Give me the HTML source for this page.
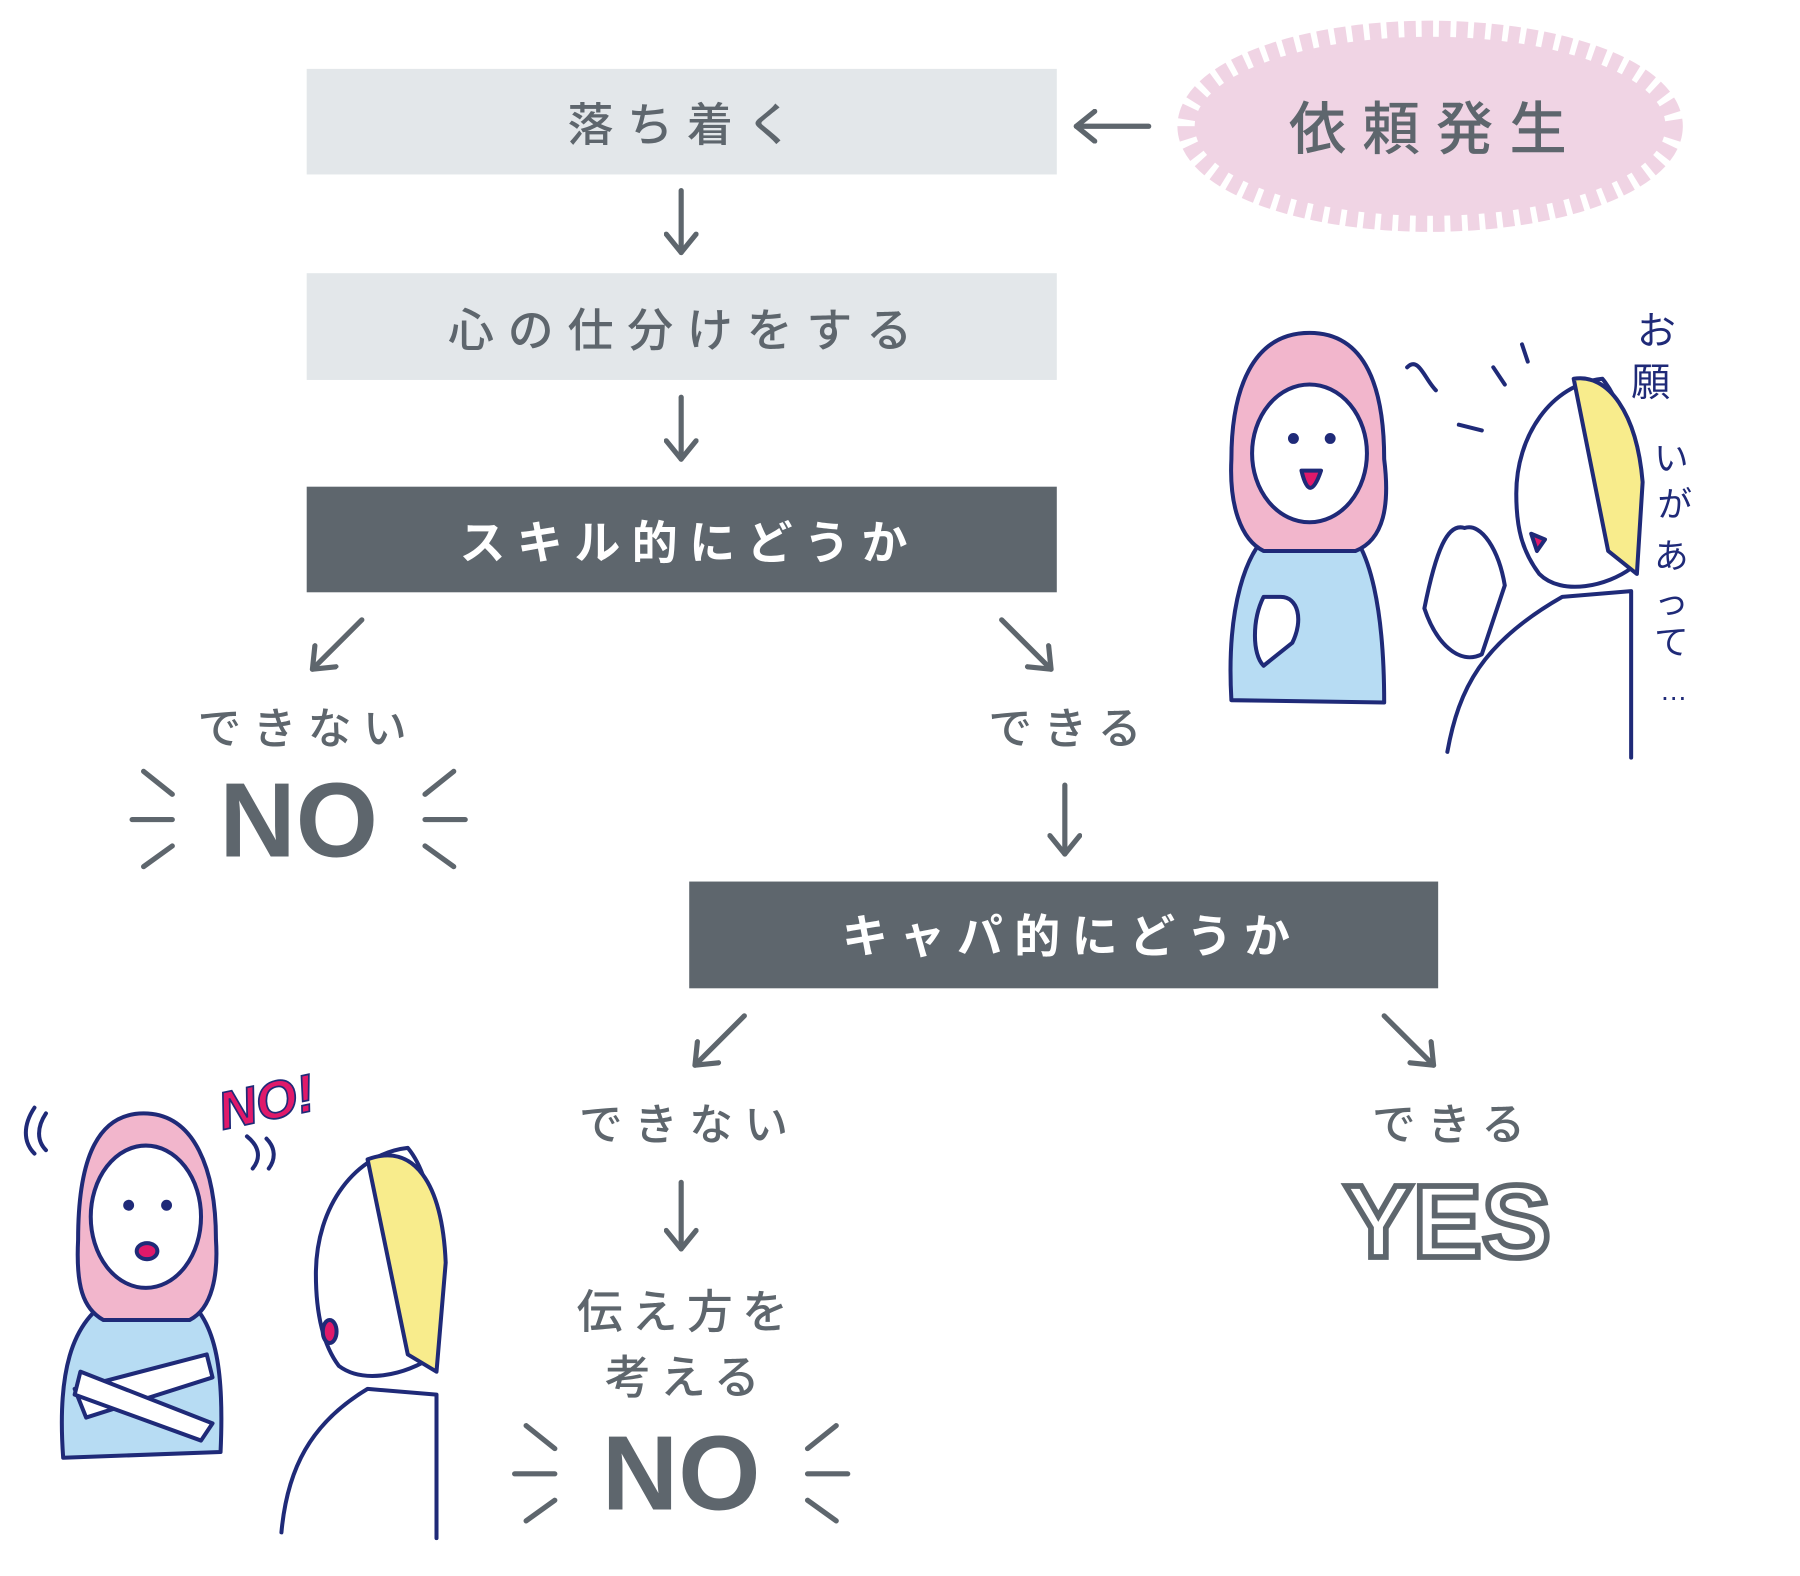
<!DOCTYPE html>
<html><head><meta charset="utf-8"><style>
html,body{margin:0;padding:0;background:#fff}
svg{display:block}
text{font-family:"Liberation Sans","Noto Sans CJK JP",sans-serif}
.jp{font-family:"Noto Sans CJK JP",sans-serif;font-weight:700;fill:#5e666d}
</style></head><body>
<svg width="1800" height="1576" viewBox="0 0 1567 1373" preserveAspectRatio="none" xmlns="http://www.w3.org/2000/svg">
<defs>
<marker id="ah" viewBox="0 0 30 30" refX="20" refY="15" markerWidth="30" markerHeight="30" markerUnits="userSpaceOnUse" orient="auto">
<path d="M4 2 L20 15 L4 28" fill="none" stroke="#5e666d" stroke-width="4.5" stroke-linecap="round" stroke-linejoin="round"/>
</marker>
</defs>
<ellipse cx="1245" cy="110" rx="205" ry="78" fill="#f0d4e4"/>
<ellipse cx="1245" cy="110" rx="208" ry="80" fill="none" stroke="#f0d4e4" stroke-width="24" stroke-dasharray="10 5"/>
<text class="jp" x="1250" y="130" font-size="50" text-anchor="middle" letter-spacing="14" style="font-weight:500">依頼発生</text>
<g stroke="#5e666d" stroke-width="4.5" fill="none" stroke-linecap="round">
<line x1="1000" y1="110" x2="937" y2="110" marker-end="url(#ah)"/>
<line x1="593" y1="166" x2="593" y2="220" marker-end="url(#ah)"/>
<line x1="593" y1="346" x2="593" y2="400" marker-end="url(#ah)"/>
<line x1="315" y1="540" x2="272" y2="583" marker-end="url(#ah)"/>
<line x1="872" y1="540" x2="915" y2="583" marker-end="url(#ah)"/>
<line x1="927" y1="684" x2="927" y2="744" marker-end="url(#ah)"/>
<line x1="648" y1="885" x2="605" y2="928" marker-end="url(#ah)"/>
<line x1="1205" y1="885" x2="1248" y2="928" marker-end="url(#ah)"/>
<line x1="593" y1="1030" x2="593" y2="1088" marker-end="url(#ah)"/>
</g>
<rect x="267" y="60" width="653" height="92" fill="#e3e7ea"/>
<rect x="267" y="238" width="653" height="93" fill="#e3e7ea"/>
<rect x="267" y="424" width="653" height="92" fill="#5e666d"/>
<rect x="600" y="768" width="652" height="93" fill="#5e666d"/>
<text class="jp" x="598" y="123" font-size="40" text-anchor="middle" letter-spacing="12" style="font-weight:500">落ち着く</text>
<text class="jp" x="598" y="302" font-size="40" text-anchor="middle" letter-spacing="12" style="font-weight:500">心の仕分けをする</text>
<text class="jp" x="600" y="487" font-size="40" text-anchor="middle" letter-spacing="10" style="fill:#fff">スキル的にどうか</text>
<text class="jp" x="933" y="830" font-size="40" text-anchor="middle" letter-spacing="10" style="fill:#fff">キャパ的にどうか</text>
<text class="jp" x="268" y="648" font-size="38" text-anchor="middle" letter-spacing="10" style="font-weight:500">できない</text>
<text class="jp" x="932" y="648" font-size="38" text-anchor="middle" letter-spacing="10" style="font-weight:500">できる</text>
<text class="jp" x="600" y="993" font-size="38" text-anchor="middle" letter-spacing="10" style="font-weight:500">できない</text>
<text class="jp" x="1266" y="993" font-size="38" text-anchor="middle" letter-spacing="10" style="font-weight:500">できる</text>
<text class="jp" x="598" y="1157" font-size="40" text-anchor="middle" letter-spacing="8" style="font-weight:500">伝え方を</text>
<text class="jp" x="598" y="1214" font-size="40" text-anchor="middle" letter-spacing="8" style="font-weight:500">考える</text>
<text x="260" y="746" font-size="92" font-weight="700" fill="#5e666d" text-anchor="middle">NO</text>
<text x="593" y="1315" font-size="92" font-weight="700" fill="#5e666d" text-anchor="middle">NO</text>
<g stroke="#5e666d" stroke-width="4.5" stroke-linecap="round">
<path d="M125 672 L150 692 M115 714 L150 714 M125 755 L150 737 M395 672 L370 692 M405 714 L370 714 M395 755 L370 737"/>
<path d="M458 1242 L483 1262 M448 1284 L483 1284 M458 1325 L483 1307 M728 1242 L703 1262 M738 1284 L703 1284 M728 1325 L703 1307"/>
</g>
<text x="1260" y="1095" font-size="90" font-weight="700" fill="#fff" stroke="#5e666d" stroke-width="5" text-anchor="middle">YES</text>
<g stroke="#1f2a78" stroke-width="3.5" stroke-linejoin="round" stroke-linecap="round">
<path d="M1072 610 C1068 540 1080 470 1120 455 L1165 455 C1195 470 1205 540 1205 612 Z" fill="#b7dcf3"/>
<path d="M1140 290 C1090 290 1072 340 1072 400 C1070 440 1080 470 1100 480 L1180 480 C1205 470 1210 440 1205 400 C1205 340 1190 290 1140 290 Z" fill="#f2b6cc"/>
<ellipse cx="1140" cy="395" rx="50" ry="60" fill="#fff"/>
<circle cx="1126" cy="382" r="3" fill="#1f2a78"/><circle cx="1158" cy="382" r="3" fill="#1f2a78"/>
<path d="M1133 410 Q1140 440 1150 410 Z" fill="#e0196a"/>
<path d="M1100 520 C1090 540 1090 570 1100 580 L1125 560 C1135 540 1130 520 1115 520 Z" fill="#fff"/>
<path d="M1225 320 C1235 310 1240 330 1250 340 M1270 370 L1290 375 M1300 320 L1310 335 M1325 300 L1330 315" fill="none"/>
<path d="M1260 655 C1270 600 1290 560 1360 520 L1420 515 L1420 660" fill="#fff"/>
<path d="M1320 430 C1320 380 1350 335 1395 330 C1420 360 1425 420 1420 495 C1400 510 1360 520 1340 500 C1325 480 1320 460 1320 430 Z" fill="#fff"/>
<path d="M1370 330 C1400 325 1425 360 1430 420 L1425 500 L1400 480 Z" fill="#f8ec8c"/>
<path d="M1333 465 L1345 470 L1338 480 Z" fill="#e0196a"/>
<path d="M1240 530 C1250 480 1260 455 1275 460 C1290 455 1305 480 1310 510 L1290 570 C1270 580 1250 560 1240 530 Z" fill="#fff"/>
</g>
<text x="1425" y="300" font-size="34" fill="#1f2a78" font-family="Noto Sans CJK JP">お</text>
<text x="1420" y="345" font-size="34" fill="#1f2a78" font-family="Noto Sans CJK JP">願</text>
<text x="1440" y="410" font-size="30" fill="#1f2a78" font-family="Noto Sans CJK JP">い</text>
<text x="1443" y="450" font-size="30" fill="#1f2a78" font-family="Noto Sans CJK JP">が</text>
<text x="1440" y="495" font-size="30" fill="#1f2a78" font-family="Noto Sans CJK JP">あ</text>
<text x="1440" y="535" font-size="30" fill="#1f2a78" font-family="Noto Sans CJK JP">っ</text>
<text x="1440" y="570" font-size="30" fill="#1f2a78" font-family="Noto Sans CJK JP">て</text>
<text x="1445" y="610" font-size="24" fill="#1f2a78" font-family="Noto Sans CJK JP">…</text>
<g stroke="#1f2a78" stroke-width="3.5" stroke-linejoin="round" stroke-linecap="round">
<path d="M55 1270 C50 1200 60 1150 100 1130 L160 1130 C190 1150 195 1200 192 1265 Z" fill="#b7dcf3"/>
<path d="M125 970 C80 970 68 1020 68 1080 C66 1120 72 1140 90 1150 L165 1150 C185 1140 190 1110 188 1080 C188 1020 170 970 125 970 Z" fill="#f2b6cc"/>
<ellipse cx="127" cy="1060" rx="48" ry="62" fill="#fff"/>
<circle cx="112" cy="1050" r="3" fill="#1f2a78"/><circle cx="145" cy="1050" r="3" fill="#1f2a78"/>
<ellipse cx="128" cy="1090" rx="9" ry="7" fill="#e0196a"/>
<path d="M65 1210 L180 1180 L185 1200 L75 1235 Z" fill="#fff"/>
<path d="M185 1240 L70 1195 L65 1215 L175 1255 Z" fill="#fff"/>
<path d="M30 965 C20 980 20 995 30 1005 M40 970 C32 982 32 994 40 1002 M215 990 C225 998 228 1008 220 1018 M232 992 C240 1000 240 1010 234 1018" fill="none"/>
<path d="M245 1335 C250 1280 270 1240 320 1210 L380 1215 L380 1340" fill="#fff"/>
<path d="M275 1110 C275 1050 310 1005 355 1000 C380 1030 385 1100 380 1180 C350 1200 315 1205 295 1190 C280 1170 275 1140 275 1110 Z" fill="#fff"/>
<path d="M320 1010 C360 995 385 1030 388 1100 L380 1195 L355 1180 Z" fill="#f8ec8c"/>
<ellipse cx="287" cy="1160" rx="6" ry="10" fill="#e0196a"/>
</g>
<text x="190" y="972" font-size="46" font-weight="700" font-style="italic" fill="#e0196a" stroke="#1f2a78" stroke-width="1.5" transform="rotate(-12 250 960)">NO!</text>
</svg>
</body></html>
